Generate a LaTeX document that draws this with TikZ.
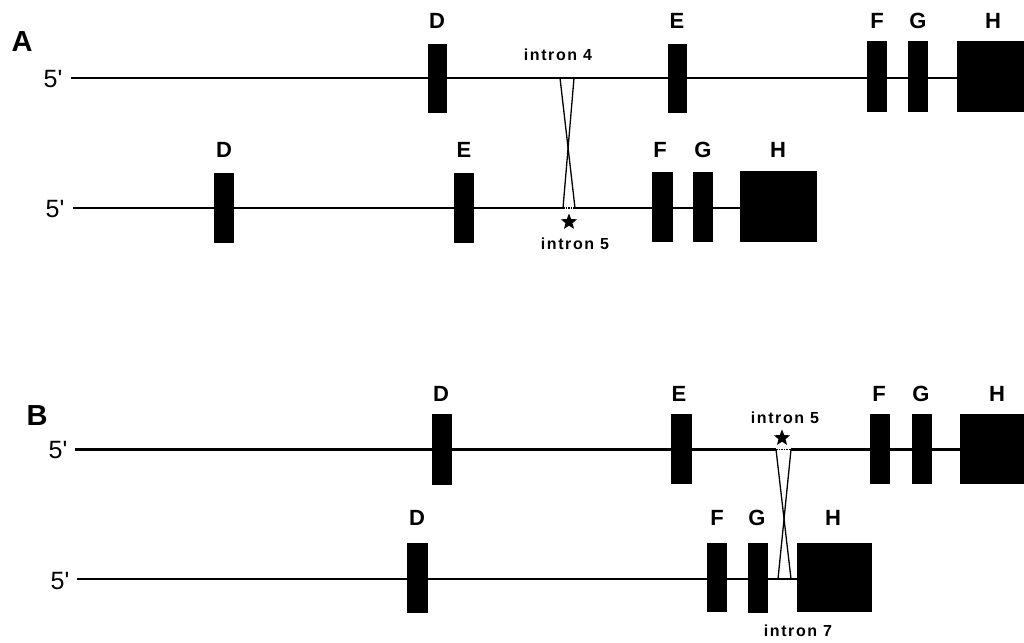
\documentclass[tikz,border=0pt]{standalone}
\usepackage{fontspec}
\setmainfont{Liberation Sans}
\newfontfamily\intronfont[LetterSpace=10]{Liberation Sans}
\usetikzlibrary{shapes.geometric}
\begin{document}
\begin{tikzpicture}[x=1pt,y=-1pt,
  exon/.style={rectangle,fill=black,draw=none,inner sep=0pt,outer sep=0pt},
  chrom/.style={line width=2.9pt},
  crossline/.style={line width=1.3pt},
  gapline/.style={line width=1.6pt,densely dotted},
  lab/.style={font=\fontsize{22}{22}\selectfont\bfseries,inner sep=0pt},
  five/.style={font=\fontsize{25}{25}\selectfont,inner sep=0pt},
  intr/.style={font=\intronfont\fontsize{16}{16}\selectfont\bfseries,inner sep=0pt},
  panel/.style={font=\fontsize{29}{29}\selectfont\bfseries,inner sep=0pt},
  starmark/.style={star,star points=5,star point ratio=2.3,fill=black,draw=none,minimum size=17pt,inner sep=0pt}
]
\useasboundingbox (0,0) rectangle (1024,642);

% ---------------- Panel A ----------------
\node[panel] (pA) at (22,42) {A};
\node[five] (a1five) at (53,79) {5\textquotesingle};
\node[five] (a2five) at (55,209) {5\textquotesingle};

% row A1
\coordinate (a1s) at (71,78);
\node[exon,minimum width=19pt,minimum height=69pt] (a1D) at (437.5,78.5) {};
\node[exon,minimum width=19pt,minimum height=69pt] (a1E) at (677.5,78.5) {};
\node[exon,minimum width=20pt,minimum height=71pt] (a1F) at (877,76.5) {};
\node[exon,minimum width=20pt,minimum height=71pt] (a1G) at (918,76.5) {};
\node[exon,minimum width=68pt,minimum height=71pt] (a1H) at (991,76.5) {};
\draw[chrom] (a1s) -- (a1H.west |- a1s);
\node[lab] (a1Dl) at (437,21) {D};
\node[lab] (a1El) at (677,21) {E};
\node[lab] (a1Fl) at (877,21) {F};
\node[lab] (a1Gl) at (918,21) {G};
\node[lab] (a1Hl) at (993,21) {H};

% row A2
\coordinate (a2s) at (73,208);
\node[exon,minimum width=20pt,minimum height=70pt] (a2D) at (224,208) {};
\node[exon,minimum width=20pt,minimum height=70pt] (a2E) at (464,208) {};
\node[exon,minimum width=21pt,minimum height=70pt] (a2F) at (662.5,207) {};
\node[exon,minimum width=20pt,minimum height=70pt] (a2G) at (703,207) {};
\node[exon,minimum width=77pt,minimum height=71pt] (a2H) at (778.5,206.5) {};
\node[lab] (a2Dl) at (224,150) {D};
\node[lab] (a2El) at (464,150) {E};
\node[lab] (a2Fl) at (660,150) {F};
\node[lab] (a2Gl) at (703,150) {G};
\node[lab] (a2Hl) at (778,150) {H};

% crossover A
\coordinate (axt1) at (560,78);
\coordinate (axt2) at (574,78);
\coordinate (axb1) at (563,208);
\coordinate (axb2) at (575,208);
\draw[chrom] (a2s) -- (axb1);
\draw[chrom] (axb2) -- (a2H.west |- axb2);
\draw[gapline] (axb1) -- (axb2);
\draw[crossline] (axt1) -- (axb2);
\draw[crossline] (axt2) -- (axb1);
\node[starmark] (aStar) at (569,222) {};
\node[intr] (aIn4) at (558,55) {intron 4};
\node[intr] (aIn5) at (575,244) {intron 5};

% ---------------- Panel B ----------------
\node[panel] (pB) at (37,416) {B};
\node[five] (b1five) at (58,450) {5\textquotesingle};
\node[five] (b2five) at (60,581) {5\textquotesingle};

% row B1
\coordinate (b1s) at (75,449.5);
\node[exon,minimum width=20pt,minimum height=71pt] (b1D) at (442,449.5) {};
\node[exon,minimum width=21pt,minimum height=70pt] (b1E) at (681.5,449) {};
\node[exon,minimum width=20pt,minimum height=70pt] (b1F) at (880,449) {};
\node[exon,minimum width=20pt,minimum height=70pt] (b1G) at (922,449) {};
\node[exon,minimum width=66pt,minimum height=70pt] (b1H) at (993,449) {};
\node[lab] (b1Dl) at (441,394) {D};
\node[lab] (b1El) at (679,394) {E};
\node[lab] (b1Fl) at (879,394) {F};
\node[lab] (b1Gl) at (921,394) {G};
\node[lab] (b1Hl) at (997,394) {H};

% row B2
\coordinate (b2s) at (77,579);
\node[exon,minimum width=21pt,minimum height=70pt] (b2D) at (417.5,578) {};
\node[exon,minimum width=20pt,minimum height=69pt] (b2F) at (717,577.5) {};
\node[exon,minimum width=20pt,minimum height=70pt] (b2G) at (758,578) {};
\node[exon,minimum width=75pt,minimum height=69pt] (b2H) at (834.5,577.5) {};
\draw[chrom] (b2s) -- (b2H.west |- b2s);
\node[lab] (b2Dl) at (417,518) {D};
\node[lab] (b2Fl) at (717,518) {F};
\node[lab] (b2Gl) at (757,518) {G};
\node[lab] (b2Hl) at (833,518) {H};

% crossover B
\coordinate (bxt1) at (776,449.5);
\coordinate (bxt2) at (791,449.5);
\coordinate (bxb1) at (778,579);
\coordinate (bxb2) at (791,579);
\draw[chrom] (b1s) -- (bxt1);
\draw[chrom] (bxt2) -- (b1H.west |- bxt2);
\draw[gapline] (bxt1) -- (bxt2);
\draw[crossline] (bxt1) -- (bxb2);
\draw[crossline] (bxt2) -- (bxb1);
\node[starmark] (bStar) at (782,438) {};
\node[intr] (bIn5) at (785,418) {intron 5};
\node[intr] (bIn7) at (798,631) {intron 7};
\end{tikzpicture}
\end{document}
